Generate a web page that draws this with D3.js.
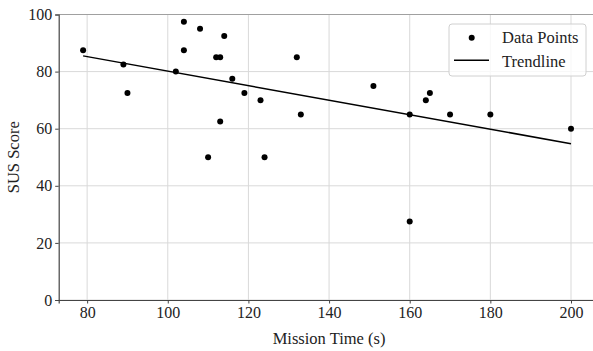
<!DOCTYPE html>
<html>
<head>
<meta charset="utf-8">
<script src="https://cdn.jsdelivr.net/npm/d3@7"></script>
<style>
  html, body { margin: 0; padding: 0; background: #fff; }
  svg { display: block; }
  svg text { font-family: "Liberation Serif", "Times New Roman", serif !important; }
</style>
</head>
<body>
<svg id="chart" width="593" height="351"></svg>
<script>
// Data
const missionTime = [79, 89, 90, 102, 104, 104, 108, 110, 112, 113, 113, 114, 116, 119, 123, 124, 132, 133, 151, 160, 160, 164, 165, 170, 180, 200];
const susScore    = [87.5, 82.5, 72.5, 80, 97.5, 87.5, 95, 50, 85, 85, 62.5, 92.5, 77.5, 72.5, 70, 50, 85, 65, 75, 65, 27.5, 70, 72.5, 65, 65, 60];
const xTicks = [80, 100, 120, 140, 160, 180, 200];
const yTicks = [0, 20, 40, 60, 80, 100];
const legendLabels = ["Data Points", "Trendline"];
const xLabel = "Mission Time (s)";
const yLabel = "SUS Score";

const FONT = "'Liberation Serif', 'Times New Roman', serif";
const points = missionTime.map((t, i) => ({ x: t, y: susScore[i] }));

// least-squares trendline
const mx = d3.mean(missionTime), my = d3.mean(susScore);
const slope = d3.sum(points, p => (p.x - mx) * (p.y - my)) / d3.sum(points, p => (p.x - mx) ** 2);
const intercept = my - slope * mx;
const xMin = d3.min(missionTime), xMax = d3.max(missionTime);
const pad = (xMax - xMin) * 0.05;
const trend = [xMin, xMax].map(v => ({ x: v, y: intercept + slope * v }));

const svg = d3.select("#chart");
const pL = 58.7, pR = 595.4, pT = 14.5, pB = 300;

const x = d3.scaleLinear().domain([xMin - pad, xMax + pad]).range([pL, pR]);
const y = d3.scaleLinear().domain([0, 100]).range([pB, pT]);

// grid
const grid = svg.append("g");
grid.selectAll(".vx").data(xTicks).enter().append("line")
  .attr("x1", d => x(d)).attr("x2", d => x(d)).attr("y1", pT).attr("y2", pB)
  .attr("stroke", "#d9d9d9").attr("stroke-width", 1);
grid.selectAll(".hy").data(yTicks).enter().append("line")
  .attr("y1", d => y(d)).attr("y2", d => y(d)).attr("x1", pL).attr("x2", pR)
  .attr("stroke", "#d9d9d9").attr("stroke-width", 1);

// spines
svg.append("line").attr("x1", pL).attr("x2", pR).attr("y1", pT).attr("y2", pT)
  .attr("stroke", "#a0a0a0").attr("stroke-width", 1.2);
svg.append("line").attr("x1", pR).attr("x2", pR).attr("y1", pT).attr("y2", pB)
  .attr("stroke", "#a0a0a0").attr("stroke-width", 1.2);

// axes
const xAxis = svg.append("g").attr("transform", `translate(0,${pB})`)
  .call(d3.axisBottom(x).tickValues(xTicks).tickSize(3.5).tickPadding(3).tickFormat(d3.format("d")));
const yAxis = svg.append("g").attr("transform", `translate(${pL},0)`)
  .call(d3.axisLeft(y).tickValues(yTicks).tickSize(3.5).tickPadding(3).tickFormat(d3.format("d")));
[xAxis, yAxis].forEach(a => {
  a.attr("font-family", null);
  a.selectAll("text").style("font-family", FONT).attr("font-size", 16).attr("fill", "#222");
  a.selectAll("line").attr("stroke", "#444");
  a.select(".domain").attr("stroke", "#444").attr("stroke-width", 1.2);
});

// trendline
svg.append("path").datum(trend)
  .attr("d", d3.line().x(d => x(d.x)).y(d => y(d.y)))
  .attr("fill", "none").attr("stroke", "#000").attr("stroke-width", 1.5);

// points
svg.append("g").selectAll("circle").data(points).enter().append("circle")
  .attr("cx", d => x(d.x)).attr("cy", d => y(d.y)).attr("r", 3).attr("fill", "#000");

// axis labels
svg.append("text").attr("x", (x(80) + x(200)) / 2).attr("y", 344)
  .style("font-family", FONT)
  .attr("text-anchor", "middle").attr("font-size", 16.5).attr("fill", "#222").text(xLabel);
svg.append("text").attr("transform", `translate(19,${(pT + pB) / 2}) rotate(-90)`)
  .style("font-family", FONT)
  .attr("text-anchor", "middle").attr("font-size", 16.5).attr("fill", "#222").text(yLabel);

// legend
const lg = svg.append("g");
lg.append("rect").attr("x", 449).attr("y", 24).attr("width", 137).attr("height", 52).attr("rx", 3)
  .attr("fill", "#fff").attr("fill-opacity", 0.8).attr("stroke", "#d0d0d0").attr("stroke-width", 1);
lg.append("circle").attr("cx", 471.7).attr("cy", 37.7).attr("r", 3).attr("fill", "#000");
lg.append("line").attr("x1", 454).attr("x2", 489).attr("y1", 60.3).attr("y2", 60.3)
  .attr("stroke", "#000").attr("stroke-width", 1.5);
lg.selectAll("text").data(legendLabels).enter().append("text")
  .attr("x", 502).attr("y", (d, i) => 43 + i * 23.5)
  .style("font-family", FONT)
  .attr("font-size", 16.5).attr("fill", "#222").text(d => d);
</script>
</body>
</html>
